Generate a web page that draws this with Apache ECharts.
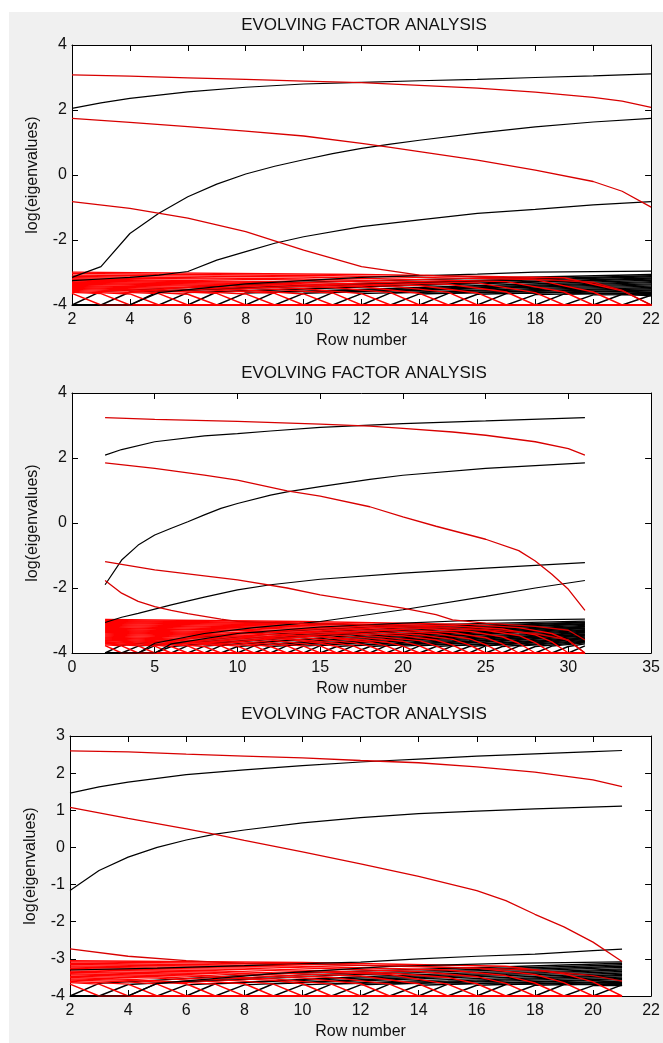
<!DOCTYPE html>
<html><head><meta charset="utf-8">
<script src="https://cdn.jsdelivr.net/npm/echarts/dist/echarts.min.js"></script>
<style>
html,body{margin:0;padding:0;background:#fff;}
#bg{position:absolute;left:9px;top:12px;width:654px;height:1031px;background:#f0f0f0;}
#chart{position:absolute;left:0;top:0;width:663px;height:1043px;}
</style></head><body>
<div id="bg"></div><div id="chart"></div>
<script>
// ---------- text ----------
const titleText = 'EVOLVING FACTOR ANALYSIS';
const xName = 'Row number';
const yName = 'log(eigenvalues)';

// ---------- tick labels ----------
const p1XTicks = [2,4,6,8,10,12,14,16,18,20,22];
const p1YTicks = [-4,-2,0,2,4];
const p2XTicks = [0,5,10,15,20,25,30,35];
const p2YTicks = [-4,-2,0,2,4];
const p3XTicks = [2,4,6,8,10,12,14,16,18,20,22];
const p3YTicks = [-4,-3,-2,-1,0,1,2,3];

// ---------- panel 1 ----------
const p1Black = [
  [[2,2.05],[3,2.22],[4,2.36],[6,2.56],[8,2.70],[10,2.80],[12,2.85],[14,2.90],[16,2.94],[18,3.0],[20,3.05],[22,3.11]],
  [[2,-3.15],[3,-2.82],[4,-1.8],[5,-1.18],[6,-0.67],[7,-0.28],[8,0.03],[9,0.27],[10,0.47],[11,0.66],[12,0.82],[13,0.95],[14,1.07],[16,1.29],[18,1.48],[20,1.63],[22,1.74]],
  [[2,-3.25],[3,-3.2],[4,-3.15],[5,-3.08],[6,-2.97],[7,-2.62],[8,-2.36],[9,-2.1],[10,-1.9],[12,-1.59],[14,-1.38],[16,-1.18],[18,-1.06],[20,-0.92],[22,-0.82]],
  [[2,-4],[4,-4],[5,-3.62],[8,-3.35],[12,-3.15],[16,-3.05],[18,-2.99],[22,-2.96]]
];
const p1Red = [
  [[2,3.08],[4,3.04],[6,2.99],[8,2.94],[10,2.89],[12,2.84],[14,2.76],[16,2.67],[18,2.55],[20,2.39],[21,2.27],[22,2.08]],
  [[2,1.74],[4,1.62],[6,1.49],[8,1.35],[10,1.2],[12,0.97],[13,0.85],[14,0.72],[16,0.46],[18,0.15],[20,-0.2],[21,-0.5],[22,-0.99]],
  [[2,-0.82],[4,-1.03],[6,-1.33],[8,-1.74],[10,-2.31],[12,-2.82],[13,-2.95],[14,-3.08],[16,-3.14],[18,-3.2],[20,-3.3],[21,-3.55],[22,-4]]
];
const p1FwdNoise = [
  [[2,-4],[3,-3.58],[10,-3.3],[22,-3.06]],
  [[2,-4],[3,-4],[4,-3.6],[11,-3.36],[22,-3.1]],
  [[2,-4],[4,-4],[5,-3.58],[12,-3.37],[22,-3.13]],
  [[2,-4],[5,-4],[6,-3.62],[12,-3.43],[22,-3.17]],
  [[2,-4],[6,-4],[7,-3.6],[13,-3.42],[22,-3.2]],
  [[2,-4],[7,-4],[8,-3.63],[14,-3.46],[22,-3.24]],
  [[2,-4],[8,-4],[9,-3.61],[14,-3.5],[22,-3.28]],
  [[2,-4],[9,-4],[10,-3.64],[15,-3.5],[22,-3.31]],
  [[2,-4],[10,-4],[11,-3.62],[16,-3.5],[22,-3.35]],
  [[2,-4],[11,-4],[12,-3.65],[17,-3.52],[22,-3.38]],
  [[2,-4],[12,-4],[13,-3.63],[17,-3.55],[22,-3.42]],
  [[2,-4],[13,-4],[14,-3.66],[18,-3.56],[22,-3.46]],
  [[2,-4],[14,-4],[15,-3.64],[18,-3.58],[22,-3.5]],
  [[2,-4],[15,-4],[16,-3.67],[19,-3.6],[22,-3.54]],
  [[2,-4],[16,-4],[17,-3.65],[22,-3.57]],
  [[2,-4],[17,-4],[18,-3.68],[22,-3.61]],
  [[2,-4],[18,-4],[19,-3.66],[22,-3.64]],
  [[2,-4],[19,-4],[20,-3.69],[22,-3.68]],
  [[2,-4],[20,-4],[21,-3.67],[22,-3.72]],
  [[2,-4],[21,-4],[22,-3.7]]
];
const p1BwdNoise = [
  [[2,-2.99],[12,-3.06],[19,-3.16],[21,-3.56],[22,-4]],
  [[2,-3.03],[11,-3.1],[18,-3.22],[20,-3.6],[21,-4],[22,-4]],
  [[2,-3.08],[10,-3.14],[17,-3.28],[19,-3.6],[20,-4],[22,-4]],
  [[2,-3.12],[10,-3.2],[16,-3.32],[18,-3.62],[19,-4],[22,-4]],
  [[2,-3.16],[9,-3.22],[15,-3.36],[17,-3.6],[18,-4],[22,-4]],
  [[2,-3.2],[9,-3.28],[14,-3.4],[16,-3.63],[17,-4],[22,-4]],
  [[2,-3.23],[8,-3.3],[13,-3.42],[15,-3.61],[16,-4],[22,-4]],
  [[2,-3.26],[8,-3.34],[12,-3.44],[14,-3.64],[15,-4],[22,-4]],
  [[2,-3.3],[7,-3.36],[11,-3.46],[13,-3.62],[14,-4],[22,-4]],
  [[2,-3.33],[7,-3.4],[10,-3.5],[12,-3.65],[13,-4],[22,-4]],
  [[2,-3.36],[6,-3.42],[9,-3.52],[11,-3.63],[12,-4],[22,-4]],
  [[2,-3.4],[6,-3.46],[8,-3.54],[10,-3.66],[11,-4],[22,-4]],
  [[2,-3.43],[5,-3.48],[7,-3.55],[9,-3.64],[10,-4],[22,-4]],
  [[2,-3.46],[5,-3.52],[8,-3.66],[9,-4],[22,-4]],
  [[2,-3.49],[4,-3.53],[7,-3.64],[8,-4],[22,-4]],
  [[2,-3.52],[4,-3.57],[6,-3.67],[7,-4],[22,-4]],
  [[2,-3.55],[5,-3.65],[6,-4],[22,-4]],
  [[2,-3.58],[4,-3.66],[5,-4],[22,-4]],
  [[2,-3.61],[3,-3.65],[4,-4],[22,-4]],
  [[2,-3.64],[3,-4],[22,-4]]
];

// ---------- panel 2 ----------
const p2Black = [
  [[2,2.09],[3,2.26],[5,2.5],[8,2.68],[10,2.75],[12,2.83],[15,2.94],[20,3.06],[25,3.14],[31,3.24]],
  [[2,-1.9],[3,-1.14],[4,-0.68],[5,-0.37],[6,-0.16],[7,0.04],[8,0.25],[9,0.45],[10,0.6],[12,0.86],[13,0.96],[15,1.12],[18,1.34],[20,1.47],[25,1.68],[31,1.85]],
  [[2,-3.06],[3,-2.9],[4,-2.78],[5,-2.65],[6,-2.52],[8,-2.28],[10,-2.06],[12,-1.9],[15,-1.73],[20,-1.54],[25,-1.39],[31,-1.22]],
  [[2,-4],[4,-4],[5,-3.7],[8,-3.4],[11,-3.22],[14,-3.08],[15,-3.03],[20,-2.67],[25,-2.26],[28,-2.0],[31,-1.77]],
  [[2,-4],[5,-4],[6,-3.72],[10,-3.4],[15,-3.2],[20,-3.08],[24,-3.0],[31,-2.96]]
];
const p2Red = [
  [[2,3.24],[5,3.19],[10,3.13],[15,3.04],[18,2.98],[20,2.91],[23,2.8],[25,2.7],[28,2.5],[30,2.29],[31,2.09]],
  [[2,1.85],[5,1.68],[8,1.47],[10,1.32],[13,0.99],[15,0.83],[18,0.5],[20,0.19],[22,-0.1],[25,-0.5],[27,-0.85],[28,-1.17],[29,-1.58],[30,-2.04],[31,-2.69]],
  [[2,-1.19],[5,-1.44],[10,-1.75],[13,-2.0],[15,-2.21],[20,-2.62],[22,-2.82],[23,-2.98],[25,-3.08],[28,-3.18],[30,-3.3],[31,-3.6]],
  [[2,-1.77],[3,-2.16],[4,-2.41],[5,-2.57],[6,-2.69],[7,-2.79],[8,-2.87],[9,-2.96],[10,-3.03],[13,-3.08],[17,-3.13],[21,-3.2],[25,-3.28],[28,-3.4],[30,-3.6],[31,-4]]
];
const p2FwdNoise = [
  [[2,-4],[3,-3.76],[10,-3.4],[20,-3.15],[31,-3.02]],
  [[2,-4],[3,-4],[4,-3.79],[12,-3.42],[22,-3.18],[31,-3.05]],
  [[2,-4],[4,-4],[5,-3.77],[13,-3.45],[22,-3.22],[31,-3.07]],
  [[2,-4],[5,-4],[6,-3.8],[14,-3.46],[23,-3.24],[31,-3.1]],
  [[2,-4],[6,-4],[7,-3.77],[15,-3.47],[23,-3.27],[31,-3.12]],
  [[2,-4],[7,-4],[8,-3.79],[16,-3.5],[24,-3.3],[31,-3.15]],
  [[2,-4],[8,-4],[9,-3.77],[16,-3.52],[24,-3.33],[31,-3.18]],
  [[2,-4],[9,-4],[10,-3.8],[17,-3.54],[25,-3.34],[31,-3.2]],
  [[2,-4],[10,-4],[11,-3.78],[18,-3.55],[25,-3.37],[31,-3.23]],
  [[2,-4],[11,-4],[12,-3.8],[19,-3.56],[26,-3.38],[31,-3.25]],
  [[2,-4],[12,-4],[13,-3.77],[20,-3.56],[26,-3.4],[31,-3.28]],
  [[2,-4],[13,-4],[14,-3.79],[20,-3.6],[27,-3.42],[31,-3.3]],
  [[2,-4],[14,-4],[15,-3.77],[21,-3.6],[27,-3.45],[31,-3.33]],
  [[2,-4],[15,-4],[16,-3.8],[22,-3.61],[28,-3.46],[31,-3.36]],
  [[2,-4],[16,-4],[17,-3.78],[23,-3.62],[28,-3.48],[31,-3.38]],
  [[2,-4],[17,-4],[18,-3.8],[24,-3.63],[31,-3.41]],
  [[2,-4],[18,-4],[19,-3.77],[24,-3.64],[31,-3.43]],
  [[2,-4],[19,-4],[20,-3.79],[25,-3.65],[31,-3.46]],
  [[2,-4],[20,-4],[21,-3.78],[26,-3.64],[31,-3.48]],
  [[2,-4],[21,-4],[22,-3.8],[26,-3.68],[31,-3.51]],
  [[2,-4],[22,-4],[23,-3.78],[27,-3.67],[31,-3.54]],
  [[2,-4],[23,-4],[24,-3.8],[27,-3.7],[31,-3.56]],
  [[2,-4],[24,-4],[25,-3.78],[28,-3.69],[31,-3.59]],
  [[2,-4],[25,-4],[26,-3.8],[31,-3.61]],
  [[2,-4],[26,-4],[27,-3.79],[31,-3.64]],
  [[2,-4],[27,-4],[28,-3.8],[31,-3.66]],
  [[2,-4],[28,-4],[29,-3.79],[31,-3.69]],
  [[2,-4],[29,-4],[30,-3.8],[31,-3.72]],
  [[2,-4],[30,-4],[31,-3.78]]
];
const p2BwdNoise = [
  [[2,-2.97],[14,-3.03],[24,-3.12],[27,-3.22],[29,-3.4],[30,-3.62],[31,-4]],
  [[2,-3.0],[13,-3.07],[23,-3.16],[26,-3.26],[28,-3.44],[29,-3.66],[30,-4],[31,-4]],
  [[2,-3.03],[13,-3.1],[22,-3.2],[25,-3.3],[27,-3.46],[28,-3.68],[29,-4],[31,-4]],
  [[2,-3.06],[12,-3.13],[21,-3.24],[24,-3.33],[26,-3.5],[27,-3.7],[28,-4],[31,-4]],
  [[2,-3.09],[12,-3.17],[20,-3.28],[23,-3.37],[25,-3.53],[26,-3.72],[27,-4],[31,-4]],
  [[2,-3.12],[11,-3.2],[19,-3.31],[22,-3.4],[24,-3.56],[25,-3.74],[26,-4],[31,-4]],
  [[2,-3.15],[11,-3.23],[18,-3.35],[21,-3.44],[23,-3.58],[24,-3.75],[25,-4],[31,-4]],
  [[2,-3.18],[10,-3.26],[17,-3.38],[20,-3.47],[22,-3.6],[23,-3.76],[24,-4],[31,-4]],
  [[2,-3.21],[10,-3.3],[17,-3.42],[21,-3.62],[22,-3.78],[23,-4],[31,-4]],
  [[2,-3.24],[10,-3.32],[16,-3.45],[20,-3.64],[21,-3.78],[22,-4],[31,-4]],
  [[2,-3.27],[9,-3.35],[15,-3.48],[19,-3.66],[20,-3.79],[21,-4],[31,-4]],
  [[2,-3.3],[9,-3.38],[15,-3.5],[18,-3.67],[19,-3.78],[20,-4],[31,-4]],
  [[2,-3.33],[8,-3.4],[14,-3.53],[17,-3.68],[18,-3.79],[19,-4],[31,-4]],
  [[2,-3.36],[8,-3.43],[13,-3.55],[16,-3.7],[17,-3.78],[18,-4],[31,-4]],
  [[2,-3.39],[8,-3.46],[13,-3.58],[15,-3.7],[16,-3.8],[17,-4],[31,-4]],
  [[2,-3.42],[7,-3.48],[12,-3.6],[14,-3.72],[15,-3.78],[16,-4],[31,-4]],
  [[2,-3.45],[7,-3.51],[11,-3.62],[14,-3.79],[15,-4],[31,-4]],
  [[2,-3.48],[7,-3.55],[10,-3.64],[13,-3.78],[14,-4],[31,-4]],
  [[2,-3.51],[6,-3.57],[10,-3.68],[12,-3.8],[13,-4],[31,-4]],
  [[2,-3.54],[6,-3.6],[9,-3.7],[11,-3.78],[12,-4],[31,-4]],
  [[2,-3.57],[5,-3.62],[8,-3.7],[10,-3.79],[11,-4],[31,-4]],
  [[2,-3.6],[5,-3.65],[8,-3.74],[9,-3.78],[10,-4],[31,-4]],
  [[2,-3.62],[5,-3.68],[8,-3.8],[9,-4],[31,-4]],
  [[2,-3.65],[4,-3.69],[7,-3.78],[8,-4],[31,-4]],
  [[2,-3.67],[4,-3.72],[6,-3.8],[7,-4],[31,-4]],
  [[2,-3.7],[4,-3.75],[5,-3.79],[6,-4],[31,-4]],
  [[2,-3.72],[4,-3.78],[5,-4],[31,-4]],
  [[2,-3.75],[3,-3.78],[4,-4],[31,-4]],
  [[2,-3.77],[3,-4],[31,-4]]
];

// ---------- panel 3 ----------
const p3Black = [
  [[2,1.46],[3,1.63],[4,1.76],[6,1.96],[8,2.09],[10,2.2],[12,2.3],[13,2.34],[14,2.38],[16,2.46],[18,2.52],[20,2.58],[21,2.61]],
  [[2,-1.16],[3,-0.62],[4,-0.26],[5,0.0],[6,0.2],[7,0.36],[8,0.47],[10,0.66],[12,0.8],[14,0.91],[16,0.98],[18,1.04],[21,1.11]],
  [[2,-3.3],[5,-3.25],[8,-3.18],[10,-3.13],[12,-3.09],[14,-3.0],[16,-2.93],[18,-2.87],[20,-2.78],[21,-2.74]],
  [[2,-4],[4,-4],[5,-3.66],[9,-3.4],[13,-3.2],[17,-3.12],[21,-3.08]]
];
const p3Red = [
  [[2,2.6],[4,2.57],[6,2.51],[8,2.46],[10,2.41],[12,2.34],[14,2.28],[16,2.17],[18,2.03],[20,1.82],[21,1.64]],
  [[2,1.08],[4,0.78],[5,0.64],[6,0.5],[7,0.35],[8,0.19],[10,-0.12],[12,-0.44],[14,-0.78],[16,-1.16],[17,-1.43],[18,-1.8],[19,-2.14],[20,-2.55],[21,-3.07]],
  [[2,-2.73],[4,-2.93],[6,-3.05],[8,-3.12],[10,-3.15],[14,-3.2],[18,-3.3],[20,-3.45],[21,-3.6]]
];
const p3FwdNoise = [
  [[2,-4],[3,-3.66],[9,-3.4],[21,-3.12]],
  [[2,-4],[3,-4],[4,-3.69],[10,-3.43],[21,-3.16]],
  [[2,-4],[4,-4],[5,-3.66],[11,-3.45],[21,-3.2]],
  [[2,-4],[5,-4],[6,-3.7],[12,-3.48],[21,-3.23]],
  [[2,-4],[6,-4],[7,-3.67],[12,-3.52],[21,-3.27]],
  [[2,-4],[7,-4],[8,-3.7],[13,-3.53],[21,-3.3]],
  [[2,-4],[8,-4],[9,-3.67],[14,-3.54],[21,-3.34]],
  [[2,-4],[9,-4],[10,-3.7],[15,-3.56],[21,-3.38]],
  [[2,-4],[10,-4],[11,-3.68],[15,-3.6],[21,-3.42]],
  [[2,-4],[11,-4],[12,-3.7],[16,-3.6],[21,-3.45]],
  [[2,-4],[12,-4],[13,-3.68],[17,-3.6],[21,-3.49]],
  [[2,-4],[13,-4],[14,-3.71],[17,-3.64],[21,-3.53]],
  [[2,-4],[14,-4],[15,-3.68],[18,-3.63],[21,-3.56]],
  [[2,-4],[15,-4],[16,-3.71],[21,-3.6]],
  [[2,-4],[16,-4],[17,-3.69],[21,-3.63]],
  [[2,-4],[17,-4],[18,-3.71],[21,-3.66]],
  [[2,-4],[18,-4],[19,-3.69],[21,-3.69]],
  [[2,-4],[19,-4],[20,-3.72],[21,-3.72]],
  [[2,-4],[20,-4],[21,-3.7]]
];
const p3BwdNoise = [
  [[2,-3.05],[10,-3.1],[17,-3.2],[19,-3.4],[20,-3.62],[21,-4]],
  [[2,-3.08],[10,-3.14],[16,-3.25],[18,-3.42],[19,-3.64],[20,-4],[21,-4]],
  [[2,-3.12],[9,-3.18],[15,-3.3],[17,-3.45],[18,-3.65],[19,-4],[21,-4]],
  [[2,-3.15],[9,-3.22],[14,-3.34],[16,-3.48],[17,-3.66],[18,-4],[21,-4]],
  [[2,-3.19],[8,-3.25],[13,-3.38],[15,-3.5],[16,-3.67],[17,-4],[21,-4]],
  [[2,-3.22],[8,-3.29],[13,-3.42],[15,-3.68],[16,-4],[21,-4]],
  [[2,-3.26],[7,-3.32],[12,-3.46],[14,-3.67],[15,-4],[21,-4]],
  [[2,-3.29],[7,-3.36],[11,-3.5],[13,-3.68],[14,-4],[21,-4]],
  [[2,-3.33],[7,-3.4],[10,-3.52],[12,-3.67],[13,-4],[21,-4]],
  [[2,-3.36],[6,-3.42],[9,-3.54],[11,-3.68],[12,-4],[21,-4]],
  [[2,-3.4],[6,-3.46],[9,-3.58],[10,-3.67],[11,-4],[21,-4]],
  [[2,-3.43],[5,-3.48],[8,-3.6],[9,-3.68],[10,-4],[21,-4]],
  [[2,-3.47],[5,-3.52],[8,-3.67],[9,-4],[21,-4]],
  [[2,-3.5],[4,-3.55],[7,-3.68],[8,-4],[21,-4]],
  [[2,-3.54],[4,-3.58],[6,-3.67],[7,-4],[21,-4]],
  [[2,-3.57],[4,-3.62],[5,-3.68],[6,-4],[21,-4]],
  [[2,-3.61],[3,-3.64],[4,-3.68],[5,-4],[21,-4]],
  [[2,-3.64],[3,-3.68],[4,-4],[21,-4]],
  [[2,-3.68],[3,-4],[21,-4]]
];

// ---------- layout ----------
const FONT = '"Liberation Sans", Arial, sans-serif';
const panels = [
  {grid:{left:72, top:45, width:586, height:260}, xt:p1XTicks, yt:p1YTicks, titleY:25,
   fwd:p1FwdNoise, bwd:p1BwdNoise, blk:p1Black, red:p1Red},
  {grid:{left:72, top:393, width:586, height:260}, xt:p2XTicks, yt:p2YTicks, titleY:373,
   fwd:p2FwdNoise, bwd:p2BwdNoise, blk:p2Black, red:p2Red},
  {grid:{left:70, top:736, width:588, height:260}, xt:p3XTicks, yt:p3YTicks, titleY:714,
   fwd:p3FwdNoise, bwd:p3BwdNoise, blk:p3Black, red:p3Red}
];

const grids = [], xAxes = [], yAxes = [], series = [], texts = [];
const lbl = {color:'#111', fontSize:16, fontFamily:FONT};
panels.forEach((p, g) => {
  grids.push(Object.assign({show:true, backgroundColor:'#fff', borderWidth:0}, p.grid));
  const xr = {min:p.xt[0], max:p.xt[p.xt.length-1], interval:p.xt[1]-p.xt[0]};
  const yr = {min:p.yt[0], max:p.yt[p.yt.length-1], interval:p.yt[1]-p.yt[0]};
  const line = {onZero:false, lineStyle:{color:'#000', width:1}};
  const tick = {inside:true, length:6, lineStyle:{color:'#000', width:1}};
  xAxes.push(Object.assign({gridIndex:g, type:'value', position:'bottom', axisLine:line, axisTick:tick,
    axisLabel:Object.assign({margin:7}, lbl), splitLine:{show:false},
    name:xName, nameLocation:'middle', nameGap:28, nameTextStyle:lbl}, xr));
  xAxes.push(Object.assign({gridIndex:g, type:'value', position:'top', axisLine:line, axisTick:tick,
    axisLabel:{show:false}, splitLine:{show:false}}, xr));
  yAxes.push(Object.assign({gridIndex:g, type:'value', position:'left', axisLine:line, axisTick:tick,
    axisLabel:Object.assign({margin:5}, lbl), splitLine:{show:false},
    name:yName, nameLocation:'middle', nameGap:31, nameTextStyle:lbl}, yr));
  yAxes.push(Object.assign({gridIndex:g, type:'value', position:'right', axisLine:line, axisTick:tick,
    axisLabel:{show:false}, splitLine:{show:false}}, yr));
  const add = (arr, color, w) => arr.forEach(d => series.push({
    type:'line', xAxisIndex:2*g, yAxisIndex:2*g, data:d, symbol:'none', showSymbol:false,
    lineStyle:{color:color, width:w}, silent:true, animation:false, clip:true, z:3}));
  add(p.fwd, '#000000', 1.4);
  add(p.bwd, '#ff0000', 1.4);
  add(p.blk, '#000000', 1.2);
  add(p.red, '#d80000', 1.3);
  texts.push({type:'text', x:364, y:p.titleY, z:10,
    style:{text:titleText, font:'17px ' + FONT, fill:'#111', align:'center', verticalAlign:'middle'}});
});

const chart = echarts.init(document.getElementById('chart'), null, {renderer:'canvas'});
chart.setOption({
  animation:false,
  grid:grids, xAxis:xAxes, yAxis:yAxes, series:series,
  graphic:{elements:texts}
});
</script></body></html>
